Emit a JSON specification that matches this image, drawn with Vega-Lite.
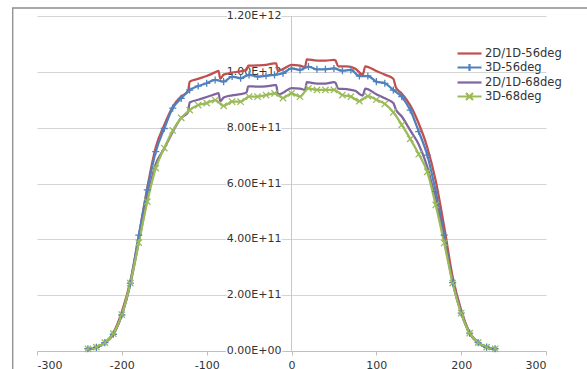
{
  "$schema": "https://vega.github.io/schema/vega-lite/v6.json",
  "width": 509,
  "height": 335,
  "autosize": "none",
  "padding": {"left": 37, "top": 16, "right": 41, "bottom": 18},
  "background": "white",
  "config": {
    "view": {"stroke": null},
    "font": "DejaVu Sans"
  },
  "datasets": {
    "curves": [
      {"s":"2D/1D-56deg","x":-240,"y":5e9},{"s":"2D/1D-56deg","x":-230,"y":1.2e10},{"s":"2D/1D-56deg","x":-220,"y":3e10},{"s":"2D/1D-56deg","x":-210,"y":6.5e10},{"s":"2D/1D-56deg","x":-200,"y":1.4e11},{"s":"2D/1D-56deg","x":-190,"y":2.5e11},{"s":"2D/1D-56deg","x":-180,"y":4.1e11},{"s":"2D/1D-56deg","x":-170,"y":5.85e11},{"s":"2D/1D-56deg","x":-160,"y":7.3e11},{"s":"2D/1D-56deg","x":-150,"y":8.1e11},{"s":"2D/1D-56deg","x":-140,"y":8.75e11},{"s":"2D/1D-56deg","x":-130,"y":9.12e11},{"s":"2D/1D-56deg","x":-122,"y":9.3e11},{"s":"2D/1D-56deg","x":-120,"y":9.65e11},{"s":"2D/1D-56deg","x":-110,"y":9.75e11},{"s":"2D/1D-56deg","x":-100,"y":9.85e11},{"s":"2D/1D-56deg","x":-90,"y":9.98e11},{"s":"2D/1D-56deg","x":-86,"y":1.003e12},{"s":"2D/1D-56deg","x":-84,"y":9.75e11},{"s":"2D/1D-56deg","x":-80,"y":9.9e11},{"s":"2D/1D-56deg","x":-70,"y":9.97e11},{"s":"2D/1D-56deg","x":-60,"y":1.002e12},{"s":"2D/1D-56deg","x":-53,"y":1.007e12},{"s":"2D/1D-56deg","x":-51,"y":1.022e12},{"s":"2D/1D-56deg","x":-40,"y":1.023e12},{"s":"2D/1D-56deg","x":-30,"y":1.025e12},{"s":"2D/1D-56deg","x":-20,"y":1.03e12},{"s":"2D/1D-56deg","x":-18,"y":1.03e12},{"s":"2D/1D-56deg","x":-16,"y":1.003e12},{"s":"2D/1D-56deg","x":-10,"y":1.01e12},{"s":"2D/1D-56deg","x":0,"y":1.025e12},{"s":"2D/1D-56deg","x":10,"y":1.022e12},{"s":"2D/1D-56deg","x":16,"y":1.017e12},{"s":"2D/1D-56deg","x":18,"y":1.045e12},{"s":"2D/1D-56deg","x":30,"y":1.04e12},{"s":"2D/1D-56deg","x":40,"y":1.04e12},{"s":"2D/1D-56deg","x":50,"y":1.043e12},{"s":"2D/1D-56deg","x":52,"y":1.04e12},{"s":"2D/1D-56deg","x":55,"y":1.02e12},{"s":"2D/1D-56deg","x":65,"y":1.02e12},{"s":"2D/1D-56deg","x":75,"y":1.012e12},{"s":"2D/1D-56deg","x":84,"y":9.9e11},{"s":"2D/1D-56deg","x":87,"y":1.02e12},{"s":"2D/1D-56deg","x":100,"y":1.003e12},{"s":"2D/1D-56deg","x":110,"y":9.9e11},{"s":"2D/1D-56deg","x":120,"y":9.75e11},{"s":"2D/1D-56deg","x":123,"y":9.45e11},{"s":"2D/1D-56deg","x":130,"y":9.22e11},{"s":"2D/1D-56deg","x":140,"y":8.8e11},{"s":"2D/1D-56deg","x":150,"y":8.15e11},{"s":"2D/1D-56deg","x":160,"y":7.3e11},{"s":"2D/1D-56deg","x":170,"y":6.1e11},{"s":"2D/1D-56deg","x":180,"y":4.45e11},{"s":"2D/1D-56deg","x":190,"y":2.65e11},{"s":"2D/1D-56deg","x":200,"y":1.47e11},{"s":"2D/1D-56deg","x":210,"y":6.6e10},{"s":"2D/1D-56deg","x":220,"y":3e10},{"s":"2D/1D-56deg","x":230,"y":1.3e10},{"s":"2D/1D-56deg","x":240,"y":6e9},

      {"s":"3D-56deg","x":-240,"y":8e9},{"s":"3D-56deg","x":-230,"y":1.3e10},{"s":"3D-56deg","x":-220,"y":3e10},{"s":"3D-56deg","x":-210,"y":6e10},{"s":"3D-56deg","x":-200,"y":1.29e11},{"s":"3D-56deg","x":-190,"y":2.43e11},{"s":"3D-56deg","x":-180,"y":4.15e11},{"s":"3D-56deg","x":-170,"y":5.77e11},{"s":"3D-56deg","x":-160,"y":7.14e11},{"s":"3D-56deg","x":-150,"y":7.97e11},{"s":"3D-56deg","x":-140,"y":8.7e11},{"s":"3D-56deg","x":-130,"y":9.05e11},{"s":"3D-56deg","x":-120,"y":9.35e11},{"s":"3D-56deg","x":-110,"y":9.49e11},{"s":"3D-56deg","x":-100,"y":9.59e11},{"s":"3D-56deg","x":-90,"y":9.71e11},{"s":"3D-56deg","x":-80,"y":9.65e11},{"s":"3D-56deg","x":-70,"y":9.83e11},{"s":"3D-56deg","x":-60,"y":9.77e11},{"s":"3D-56deg","x":-50,"y":9.89e11},{"s":"3D-56deg","x":-40,"y":9.83e11},{"s":"3D-56deg","x":-30,"y":9.86e11},{"s":"3D-56deg","x":-20,"y":9.89e11},{"s":"3D-56deg","x":-10,"y":9.95e11},{"s":"3D-56deg","x":0,"y":1.012e12},{"s":"3D-56deg","x":10,"y":1.007e12},{"s":"3D-56deg","x":20,"y":1.019e12},{"s":"3D-56deg","x":30,"y":1.009e12},{"s":"3D-56deg","x":40,"y":1.009e12},{"s":"3D-56deg","x":50,"y":1.012e12},{"s":"3D-56deg","x":60,"y":1.004e12},{"s":"3D-56deg","x":70,"y":1.007e12},{"s":"3D-56deg","x":80,"y":9.85e11},{"s":"3D-56deg","x":90,"y":9.85e11},{"s":"3D-56deg","x":100,"y":9.65e11},{"s":"3D-56deg","x":110,"y":9.59e11},{"s":"3D-56deg","x":120,"y":9.35e11},{"s":"3D-56deg","x":130,"y":9.11e11},{"s":"3D-56deg","x":140,"y":8.63e11},{"s":"3D-56deg","x":150,"y":7.86e11},{"s":"3D-56deg","x":160,"y":7.02e11},{"s":"3D-56deg","x":170,"y":5.71e11},{"s":"3D-56deg","x":180,"y":4.15e11},{"s":"3D-56deg","x":190,"y":2.45e11},{"s":"3D-56deg","x":200,"y":1.36e11},{"s":"3D-56deg","x":210,"y":6.4e10},{"s":"3D-56deg","x":220,"y":3e10},{"s":"3D-56deg","x":230,"y":1.4e10},{"s":"3D-56deg","x":240,"y":8e9},

      {"s":"2D/1D-68deg","x":-240,"y":5e9},{"s":"2D/1D-68deg","x":-230,"y":1.2e10},{"s":"2D/1D-68deg","x":-220,"y":2.8e10},{"s":"2D/1D-68deg","x":-210,"y":6e10},{"s":"2D/1D-68deg","x":-200,"y":1.3e11},{"s":"2D/1D-68deg","x":-190,"y":2.4e11},{"s":"2D/1D-68deg","x":-180,"y":3.9e11},{"s":"2D/1D-68deg","x":-170,"y":5.45e11},{"s":"2D/1D-68deg","x":-160,"y":6.7e11},{"s":"2D/1D-68deg","x":-150,"y":7.25e11},{"s":"2D/1D-68deg","x":-140,"y":7.85e11},{"s":"2D/1D-68deg","x":-130,"y":8.35e11},{"s":"2D/1D-68deg","x":-122,"y":8.55e11},{"s":"2D/1D-68deg","x":-120,"y":8.9e11},{"s":"2D/1D-68deg","x":-110,"y":9e11},{"s":"2D/1D-68deg","x":-100,"y":9.1e11},{"s":"2D/1D-68deg","x":-90,"y":9.2e11},{"s":"2D/1D-68deg","x":-86,"y":9.24e11},{"s":"2D/1D-68deg","x":-84,"y":8.95e11},{"s":"2D/1D-68deg","x":-80,"y":9.08e11},{"s":"2D/1D-68deg","x":-70,"y":9.16e11},{"s":"2D/1D-68deg","x":-60,"y":9.2e11},{"s":"2D/1D-68deg","x":-53,"y":9.26e11},{"s":"2D/1D-68deg","x":-51,"y":9.48e11},{"s":"2D/1D-68deg","x":-40,"y":9.47e11},{"s":"2D/1D-68deg","x":-30,"y":9.48e11},{"s":"2D/1D-68deg","x":-20,"y":9.52e11},{"s":"2D/1D-68deg","x":-18,"y":9.52e11},{"s":"2D/1D-68deg","x":-16,"y":9.18e11},{"s":"2D/1D-68deg","x":-10,"y":9.25e11},{"s":"2D/1D-68deg","x":0,"y":9.42e11},{"s":"2D/1D-68deg","x":10,"y":9.4e11},{"s":"2D/1D-68deg","x":16,"y":9.35e11},{"s":"2D/1D-68deg","x":18,"y":9.63e11},{"s":"2D/1D-68deg","x":30,"y":9.58e11},{"s":"2D/1D-68deg","x":40,"y":9.58e11},{"s":"2D/1D-68deg","x":50,"y":9.63e11},{"s":"2D/1D-68deg","x":52,"y":9.6e11},{"s":"2D/1D-68deg","x":55,"y":9.4e11},{"s":"2D/1D-68deg","x":65,"y":9.38e11},{"s":"2D/1D-68deg","x":75,"y":9.32e11},{"s":"2D/1D-68deg","x":84,"y":9.15e11},{"s":"2D/1D-68deg","x":87,"y":9.4e11},{"s":"2D/1D-68deg","x":100,"y":9.2e11},{"s":"2D/1D-68deg","x":110,"y":9.05e11},{"s":"2D/1D-68deg","x":120,"y":8.88e11},{"s":"2D/1D-68deg","x":123,"y":8.65e11},{"s":"2D/1D-68deg","x":130,"y":8.4e11},{"s":"2D/1D-68deg","x":140,"y":7.9e11},{"s":"2D/1D-68deg","x":150,"y":7.4e11},{"s":"2D/1D-68deg","x":160,"y":6.6e11},{"s":"2D/1D-68deg","x":170,"y":5.4e11},{"s":"2D/1D-68deg","x":180,"y":4e11},{"s":"2D/1D-68deg","x":190,"y":2.5e11},{"s":"2D/1D-68deg","x":200,"y":1.4e11},{"s":"2D/1D-68deg","x":210,"y":6.4e10},{"s":"2D/1D-68deg","x":220,"y":2.8e10},{"s":"2D/1D-68deg","x":230,"y":1.2e10},{"s":"2D/1D-68deg","x":240,"y":5e9},

      {"s":"3D-68deg","x":-240,"y":8e9},{"s":"3D-68deg","x":-230,"y":1.4e10},{"s":"3D-68deg","x":-220,"y":3e10},{"s":"3D-68deg","x":-210,"y":6.2e10},{"s":"3D-68deg","x":-200,"y":1.3e11},{"s":"3D-68deg","x":-190,"y":2.43e11},{"s":"3D-68deg","x":-180,"y":3.88e11},{"s":"3D-68deg","x":-170,"y":5.35e11},{"s":"3D-68deg","x":-160,"y":6.55e11},{"s":"3D-68deg","x":-150,"y":7.27e11},{"s":"3D-68deg","x":-140,"y":7.9e11},{"s":"3D-68deg","x":-130,"y":8.35e11},{"s":"3D-68deg","x":-120,"y":8.63e11},{"s":"3D-68deg","x":-110,"y":8.81e11},{"s":"3D-68deg","x":-100,"y":8.88e11},{"s":"3D-68deg","x":-90,"y":8.99e11},{"s":"3D-68deg","x":-80,"y":8.78e11},{"s":"3D-68deg","x":-70,"y":8.93e11},{"s":"3D-68deg","x":-60,"y":8.93e11},{"s":"3D-68deg","x":-50,"y":9.11e11},{"s":"3D-68deg","x":-40,"y":9.11e11},{"s":"3D-68deg","x":-30,"y":9.17e11},{"s":"3D-68deg","x":-20,"y":9.23e11},{"s":"3D-68deg","x":-10,"y":9.06e11},{"s":"3D-68deg","x":0,"y":9.23e11},{"s":"3D-68deg","x":10,"y":9.11e11},{"s":"3D-68deg","x":20,"y":9.41e11},{"s":"3D-68deg","x":30,"y":9.35e11},{"s":"3D-68deg","x":40,"y":9.35e11},{"s":"3D-68deg","x":50,"y":9.35e11},{"s":"3D-68deg","x":60,"y":9.17e11},{"s":"3D-68deg","x":70,"y":9.11e11},{"s":"3D-68deg","x":80,"y":8.95e11},{"s":"3D-68deg","x":90,"y":9.13e11},{"s":"3D-68deg","x":100,"y":9.0e11},{"s":"3D-68deg","x":110,"y":8.85e11},{"s":"3D-68deg","x":120,"y":8.55e11},{"s":"3D-68deg","x":130,"y":8.1e11},{"s":"3D-68deg","x":140,"y":7.6e11},{"s":"3D-68deg","x":150,"y":7.05e11},{"s":"3D-68deg","x":160,"y":6.42e11},{"s":"3D-68deg","x":170,"y":5.23e11},{"s":"3D-68deg","x":180,"y":3.87e11},{"s":"3D-68deg","x":190,"y":2.43e11},{"s":"3D-68deg","x":200,"y":1.36e11},{"s":"3D-68deg","x":210,"y":6.4e10},{"s":"3D-68deg","x":220,"y":3e10},{"s":"3D-68deg","x":230,"y":1.4e10},{"s":"3D-68deg","x":240,"y":8e9}
    ],
    "ylabels": [
      {"v":0,"t":"0.00E+00"},{"v":2e11,"t":"2.00E+11"},{"v":4e11,"t":"4.00E+11"},{"v":6e11,"t":"6.00E+11"},{"v":8e11,"t":"8.00E+11"},{"v":1e12,"t":"1.00E+12"},{"v":1.2e12,"t":"1.20E+12"}
    ],
    "frame": [{"x0": -328.6, "x1": 420, "y0": 1.2287e12, "y1": -2e11}]
  },
  "layer": [
    {
      "data": {"name": "ylabels"},
      "mark": {"type": "rule", "color": "#c8c8c8", "strokeWidth": 1},
      "encoding": {"x": {"datum": 0, "type": "quantitative"}}
    },
    {
      "data": {"name": "ylabels"},
      "mark": {"type": "text", "align": "right", "baseline": "middle", "dx": -10, "font": "DejaVu Sans", "fontSize": 11, "fill": "white", "stroke": "white", "strokeWidth": 3},
      "encoding": {"x": {"datum": 0, "type": "quantitative"}, "y": {"field": "v", "type": "quantitative"}, "text": {"field": "t", "type": "nominal"}}
    },
    {
      "data": {"name": "ylabels"},
      "mark": {"type": "text", "align": "right", "baseline": "middle", "dx": -10, "font": "DejaVu Sans", "fontSize": 11, "fill": "#333333"},
      "encoding": {"x": {"datum": 0, "type": "quantitative"}, "y": {"field": "v", "type": "quantitative"}, "text": {"field": "t", "type": "nominal"}}
    },
    {
      "data": {"name": "curves"},
      "mark": {"type": "line", "interpolate": "monotone", "strokeWidth": 2.25},
      "encoding": {
        "x": {
          "field": "x", "type": "quantitative",
          "scale": {"domain": [-300, 300], "nice": false, "zero": false},
          "axis": {
            "title": null, "grid": false,
            "values": [-300, -200, -100, 0, 100, 200, 300],
            "domainColor": "#bfbfbf", "tickColor": "#bfbfbf", "tickSize": 4,
            "labelPadding": 4, "labelFont": "DejaVu Sans", "labelFontSize": 11, "labelColor": "#333333",
            "labelExpr": "datum.value < 0 ? '-' + abs(datum.value) : '' + datum.value"
          }
        },
        "y": {
          "field": "y", "type": "quantitative",
          "scale": {"domain": [0, 1.2e12], "nice": false},
          "axis": {
            "title": null, "grid": true, "gridColor": "#d4d4d4",
            "values": [0, 2e11, 4e11, 6e11, 8e11, 1e12, 1.2e12],
            "domain": false, "ticks": false, "labels": false
          }
        },
        "color": {
          "field": "s", "type": "nominal",
          "scale": {"domain": ["2D/1D-56deg", "3D-56deg", "2D/1D-68deg", "3D-68deg"], "range": ["#C0504D", "#4F81BD", "#8064A2", "#9BBB59"]},
          "legend": {
            "title": null, "orient": "none", "legendX": 426, "legendY": 31, "padding": 0,
            "symbolType": "M-2.4,0H2.4", "symbolSize": 100, "symbolStrokeWidth": 2.2,
            "labelFont": "DejaVu Sans", "labelFontSize": 11.5, "labelColor": "#333333",
            "labelOffset": 9, "rowPadding": 0,
            "encode": {
              "symbols": {"update": {"shape": {"signal": "datum.value == '3D-56deg' ? 'M-2.4,0H2.4M0,-0.7V0.7' : datum.value == '3D-68deg' ? 'M-2.4,0H2.4M-0.7,-0.7L0.7,0.7M-0.7,0.7L0.7,-0.7' : 'M-2.4,0H2.4'"}}}
            }
          }
        },
        "order": {"field": "x", "type": "quantitative"}
      }
    },
    {
      "data": {"name": "curves"},
      "transform": [{"filter": "datum.s == '3D-56deg'"}],
      "mark": {"type": "point", "shape": "M-1,0H1M0,-1V1", "filled": false, "size": 50, "strokeWidth": 1.3, "color": "#4F81BD", "opacity": 1},
      "encoding": {"x": {"field": "x", "type": "quantitative"}, "y": {"field": "y", "type": "quantitative"}}
    },
    {
      "data": {"name": "curves"},
      "transform": [{"filter": "datum.s == '3D-68deg'"}],
      "mark": {"type": "point", "shape": "M-1,-1L1,1M-1,1L1,-1", "filled": false, "size": 40, "strokeWidth": 1.3, "color": "#9BBB59", "opacity": 1},
      "encoding": {"x": {"field": "x", "type": "quantitative"}, "y": {"field": "y", "type": "quantitative"}}
    },
    {
      "data": {"name": "frame"},
      "mark": {"type": "rect", "fill": null, "stroke": "#8c8c8c", "strokeWidth": 1.3, "clip": false},
      "encoding": {
        "x": {"field": "x0", "type": "quantitative"}, "x2": {"field": "x1"},
        "y": {"field": "y0", "type": "quantitative"}, "y2": {"field": "y1"}
      }
    }
  ]
}
